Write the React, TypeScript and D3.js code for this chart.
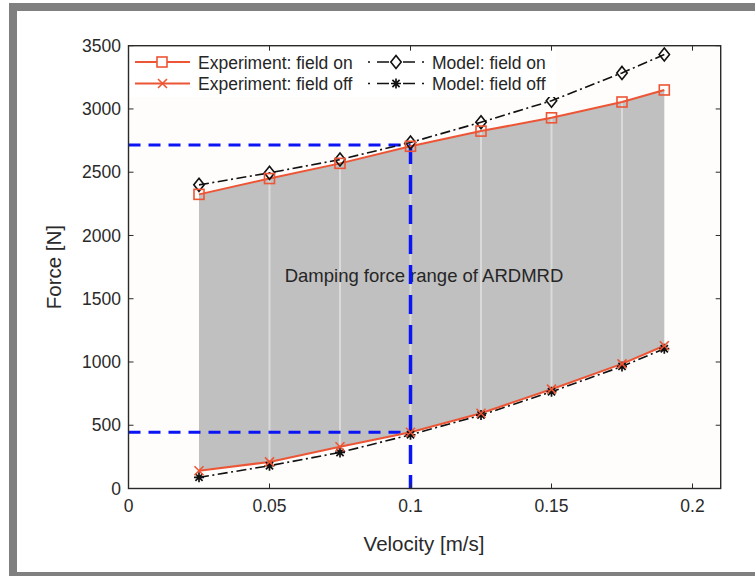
import React from "react";
import * as d3 from "d3";

const velocity = [0.025, 0.05, 0.075, 0.1, 0.125, 0.15, 0.175, 0.19];
const expOn = [2325, 2450, 2570, 2705, 2825, 2930, 3055, 3150];
const modelOn = [2400, 2495, 2600, 2735, 2895, 3065, 3285, 3430];
const expOff = [140, 210, 330, 445, 595, 785, 985, 1128];
const modelOff = [88, 180, 285, 425, 580, 765, 965, 1105];

const xTicks = [0, 0.05, 0.1, 0.15, 0.2];
const xTickLabels = ["0", "0.05", "0.1", "0.15", "0.2"];
const yTicks = [0, 500, 1000, 1500, 2000, 2500, 3000, 3500];

const guideX = 0.1;
const guideHigh = 2715;
const guideLow = 445;

const legendLabels = ["Experiment: field on", "Experiment: field off", "Model: field on", "Model: field off"];
const annotation = "Damping force range of ARDMRD";

const RED = "#ec5535";
const BLUE = "#0a14f5";
const INK = "#2a2a2a";
const FONT = "'Liberation Sans', Arial, Helvetica, sans-serif";

function Square({ cx, cy, s = 10, color }) {
  return <rect x={cx - s / 2} y={cy - s / 2} width={s} height={s} fill="none" stroke={color} strokeWidth={1.6} />;
}
function Diamond({ cx, cy, r = 6.5, color, fill = "none" }) {
  return (
    <path d={`M${cx},${cy - r}L${cx + r * 0.8},${cy}L${cx},${cy + r}L${cx - r * 0.8},${cy}Z`} fill={fill} stroke={color} strokeWidth={1.6} />
  );
}
function XMark({ cx, cy, r = 4.5, color }) {
  return (
    <path d={`M${cx - r},${cy - r}L${cx + r},${cy + r}M${cx - r},${cy + r}L${cx + r},${cy - r}`} stroke={color} strokeWidth={1.6} fill="none" />
  );
}
function Star({ cx, cy, r = 5, color }) {
  const d = r * 0.72;
  return (
    <path
      d={`M${cx - r},${cy}L${cx + r},${cy}M${cx},${cy - r}L${cx},${cy + r}M${cx - d},${cy - d}L${cx + d},${cy + d}M${cx - d},${cy + d}L${cx + d},${cy - d}`}
      stroke={color}
      strokeWidth={1.7}
      fill="none"
    />
  );
}

export default function App() {
  const W = 755, H = 576;
  const L = 128.5, R = 720.7, T = 45.7, B = 488.5;
  const x = d3.scaleLinear().domain([0, 0.21]).range([L, R]);
  const y = d3.scaleLinear().domain([0, 3500]).range([B, T]);

  const idx = velocity.map((_, i) => i);
  const area = d3.area<number>().x((i) => x(velocity[i])).y0((i) => y(expOff[i])).y1((i) => y(expOn[i]));
  const line = (arr: number[]) => d3.line<number>().x((i) => x(velocity[i])).y((i) => y(arr[i]))(idx) as string;

  const tickLen = 5;

  return (
    <svg width={W} height={H} style={{ position: "absolute", left: 0, top: 0, background: "#fff" }} fontFamily={FONT}>
      {/* outer frame */}
      <rect x={9} y={3} width={W - 9} height={8} fill="#808080" />
      <rect x={9} y={3} width={8} height={H - 3} fill="#808080" />
      <rect x={9} y={572} width={W - 9} height={4} fill="#808080" />

      {/* plot background */}
      <rect x={L} y={T} width={R - L} height={B - T} fill="#fefdfb" />

      {/* damping range fill */}
      <path d={area(idx) as string} fill="#c0c0c0" />
      {idx.slice(1, -1).map((i) => (
        <line key={i} x1={x(velocity[i])} x2={x(velocity[i])} y1={y(expOn[i])} y2={y(expOff[i])} stroke="#dadada" strokeWidth={2} />
      ))}

      <text x={424} y={282} textAnchor="middle" fontSize={18.5} fill="#262626">{annotation}</text>

      {/* blue guides */}
      <line x1={L} x2={x(guideX)} y1={y(guideHigh)} y2={y(guideHigh)} stroke={BLUE} strokeWidth={3} strokeDasharray="12,8" />
      <line x1={L} x2={x(guideX)} y1={y(guideLow)} y2={y(guideLow)} stroke={BLUE} strokeWidth={3} strokeDasharray="12,8" />
      <line x1={x(guideX)} x2={x(guideX)} y1={y(guideHigh)} y2={B} stroke={BLUE} strokeWidth={3.5} strokeDasharray="19,11" />

      {/* series lines */}
      <path d={line(modelOn)} fill="none" stroke="#111" strokeWidth={1.6} strokeDasharray="10,3.5,2,3.5" />
      <path d={line(modelOff)} fill="none" stroke="#111" strokeWidth={1.6} strokeDasharray="10,3.5,2,3.5" />
      <path d={line(expOn)} fill="none" stroke={RED} strokeWidth={2} />
      <path d={line(expOff)} fill="none" stroke={RED} strokeWidth={2} />

      {idx.map((i) => (
        <g key={i}>
          <Diamond cx={x(velocity[i])} cy={y(modelOn[i])} color="#111" />
          <Star cx={x(velocity[i])} cy={y(modelOff[i])} color="#111" />
          <Square cx={x(velocity[i])} cy={y(expOn[i])} color={RED} />
          <XMark cx={x(velocity[i])} cy={y(expOff[i])} color={RED} />
        </g>
      ))}

      {/* legend */}
      <rect x={130} y={47.5} width={426} height={49.5} fill="#ffffff" />
      <g>
        <line x1={135} x2={190} y1={62} y2={62} stroke={RED} strokeWidth={2} />
        <rect x={157} y={57} width={10} height={10} fill="#fff" stroke={RED} strokeWidth={1.6} />
        <text x={198} y={68.5} fontSize={17.5} fill="#262626">{legendLabels[0]}</text>

        <line x1={135} x2={190} y1={83.5} y2={83.5} stroke={RED} strokeWidth={2} />
        <XMark cx={162.5} cy={83.5} color={RED} />
        <text x={198} y={90} fontSize={17.5} fill="#262626">{legendLabels[1]}</text>

        <line x1={368} x2={424} y1={62} y2={62} stroke="#111" strokeWidth={1.6} strokeDasharray="2,7,12,14,12,7,2" />
        <Diamond cx={396} cy={62} color="#111" fill="#fff" />
        <text x={432} y={68.5} fontSize={17.5} fill="#262626">{legendLabels[2]}</text>

        <line x1={368} x2={424} y1={83.5} y2={83.5} stroke="#111" strokeWidth={1.6} strokeDasharray="2,7,12,14,12,7,2" />
        <Star cx={396} cy={83.5} color="#111" />
        <text x={432} y={90} fontSize={17.5} fill="#262626">{legendLabels[3]}</text>
      </g>

      {/* axes box */}
      <rect x={L} y={T} width={R - L} height={B - T} fill="none" stroke={INK} strokeWidth={1.4} />
      {xTicks.map((t, i) => (
        <g key={"x" + i}>
          <line x1={x(t)} x2={x(t)} y1={B} y2={B - tickLen} stroke={INK} strokeWidth={1} />
          <line x1={x(t)} x2={x(t)} y1={T} y2={T + tickLen} stroke={INK} strokeWidth={1} />
          <text x={x(t)} y={512} textAnchor="middle" fontSize={17.5} fill="#2a2a2a">{xTickLabels[i]}</text>
        </g>
      ))}
      {yTicks.map((t) => (
        <g key={"y" + t}>
          <line x1={L} x2={L + tickLen} y1={y(t)} y2={y(t)} stroke={INK} strokeWidth={1} />
          <line x1={R} x2={R - tickLen} y1={y(t)} y2={y(t)} stroke={INK} strokeWidth={1} />
          <text x={121} y={y(t)} dy="0.35em" textAnchor="end" fontSize={17.5} fill="#2a2a2a">{t}</text>
        </g>
      ))}

      <text x={424} y={551} textAnchor="middle" fontSize={20.5} fill="#2a2a2a">Velocity [m/s]</text>
      <text transform={`translate(61,${(T + B) / 2}) rotate(-90)`} textAnchor="middle" fontSize={20.5} fill="#2a2a2a">Force [N]</text>
    </svg>
  );
}
